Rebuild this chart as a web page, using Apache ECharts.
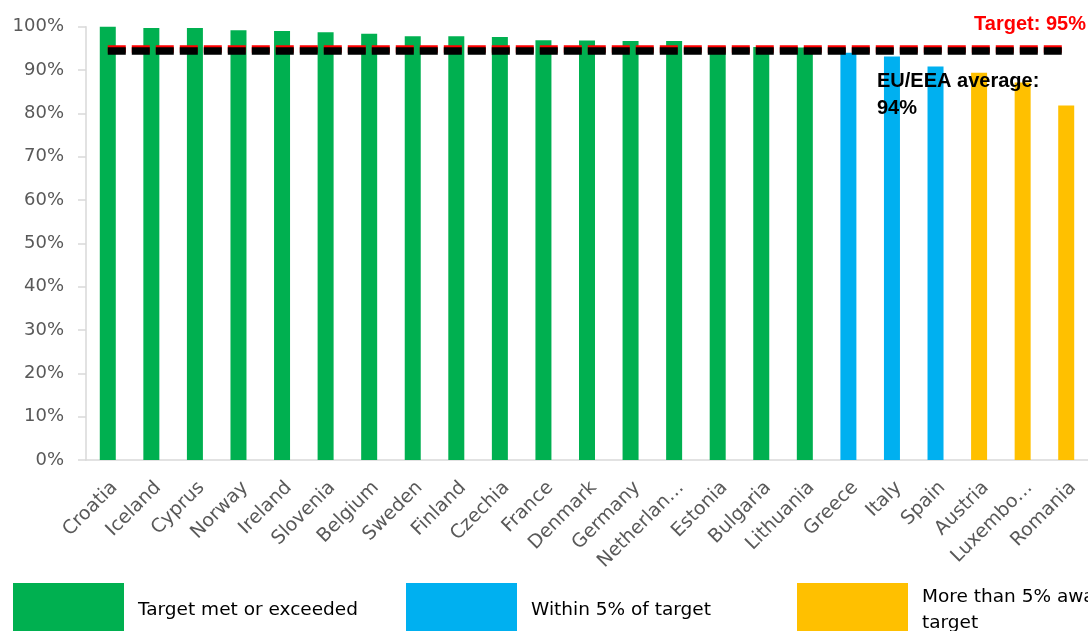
<!DOCTYPE html>
<html>
<head>
<meta charset="utf-8">
<script src="https://cdn.jsdelivr.net/npm/echarts@6/dist/echarts.min.js"></script>
<style>
html,body{margin:0;padding:0;background:#fff;}
#chart{width:1088px;height:631px;}
</style>
</head>
<body>
<div id="chart"></div>
<script>
const categories = ['Croatia','Iceland','Cyprus','Norway','Ireland','Slovenia','Belgium','Sweden','Finland','Czechia','France','Denmark','Germany','Netherlan\u2026','Estonia','Bulgaria','Lithuania','Greece','Italy','Spain','Austria','Luxembo\u2026','Romania'];
const coverage = [100.0, 99.7, 99.7, 99.2, 99.0, 98.7, 98.4, 97.8, 97.8, 97.6, 96.9, 96.8, 96.7, 96.7, 95.5, 95.3, 95.2, 94.0, 93.1, 90.8, 89.4, 87.1, 81.8];
const status = ['met','met','met','met','met','met','met','met','met','met','met','met','met','met','met','met','met','within','within','within','away','away','away'];
const groupNames = {met:'Target met or exceeded', within:'Within 5% of target', away:'More than 5% away from target'};
const groupColors = {met:'#00B050', within:'#00B0F0', away:'#FFC000'};
const targetValue = 95;
const averageValue = 94.4;
const targetLabel = 'Target: 95%';
const averageLabel = ['EU/EEA average:', '94%'];

const chart = echarts.init(document.getElementById('chart'));
const groups = ['met','within','away'];
const series = groups.map(g => ({
  name: groupNames[g],
  type: 'bar',
  stack: 'all',
  barWidth: 16,
  itemStyle: {color: groupColors[g]},
  data: coverage.map((v, i) => status[i] === g ? v : '-')
}));
series.push({
  name: 'lines',
  type: 'line',
  data: [],
  z: 5,
  markLine: {
    silent: true,
    symbol: 'none',
    label: {show: false},
    animation: false,
    data: [
      [{coord: [0, targetValue], lineStyle: {color: '#FF0000', width: 7.5, type: [18, 6]}}, {coord: [categories.length - 1, targetValue]}],
      [{coord: [0, averageValue], lineStyle: {color: '#000000', width: 7.5, type: [18, 6]}}, {coord: [categories.length - 1, averageValue]}]
    ]
  }
});

const legendBase = {
  top: 583, padding: 0, itemGap: 0, itemWidth: 111, itemHeight: 54, icon: 'rect', selectedMode: false,
  textStyle: {fontFamily: 'DejaVu Sans', fontSize: 18.5, color: '#000', padding: [0,0,0,9], lineHeight: 26}
};

chart.setOption({
  animation: false,
  grid: {left: 86, top: 26.7, width: 1009, height: 433.3, containLabel: false},
  xAxis: {
    type: 'category',
    data: categories,
    axisLine: {show: true, lineStyle: {color: '#D9D9D9', width: 1.5}},
    axisTick: {show: false},
    axisLabel: {rotate: 45, interval: 0, margin: 18, verticalAlign: 'top', fontFamily: 'DejaVu Sans', fontSize: 19, color: '#595959'}
  },
  yAxis: {
    type: 'value', min: 0, max: 100, interval: 10,
    axisLine: {show: true, lineStyle: {color: '#D9D9D9', width: 1.5}},
    axisTick: {show: true, length: 8, lineStyle: {color: '#D9D9D9', width: 1.5}},
    splitLine: {show: false},
    axisLabel: {formatter: '{value}%', margin: 22, fontFamily: 'DejaVu Sans', fontSize: 18, color: '#595959'}
  },
  legend: [
    Object.assign({}, legendBase, {left: 13, data: [groupNames.met]}),
    Object.assign({}, legendBase, {left: 406, data: [groupNames.within]}),
    Object.assign({}, legendBase, {left: 797, data: [groupNames.away], formatter: () => 'More than 5% away from\ntarget'})
  ],
  graphic: [
    {type: 'text', right: 2, top: 14, z: 10, style: {text: targetLabel, fill: '#FF0000', font: 'bold 20px "Liberation Sans"'}},
    {type: 'text', left: 877, top: 68, z: 10, style: {text: averageLabel.join('\n'), fill: '#000000', font: 'bold 20px "Liberation Sans"', lineHeight: 27}}
  ],
  series: series
});
</script>
</body>
</html>
